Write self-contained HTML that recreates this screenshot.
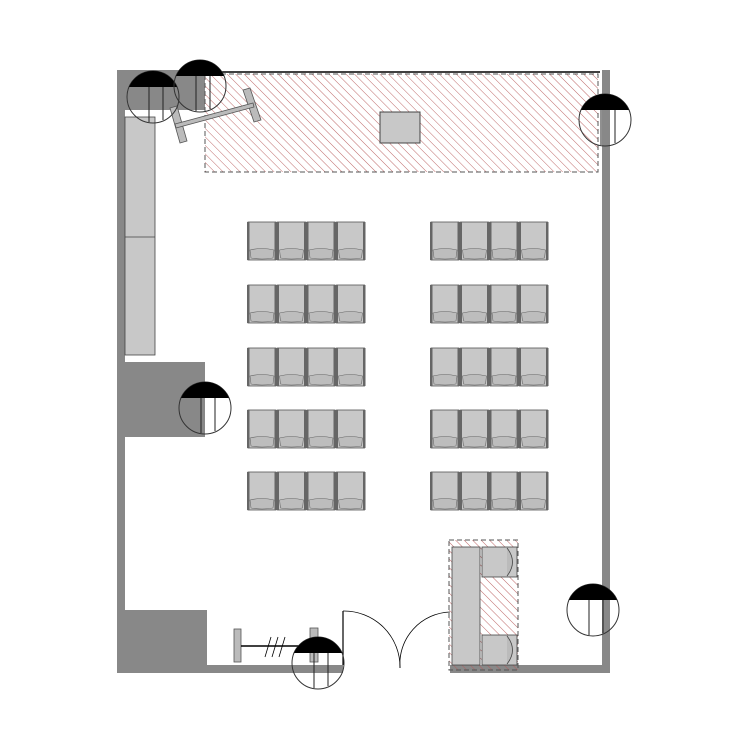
<!DOCTYPE html>
<html><head><style>html,body{margin:0;padding:0;background:#fff}svg{display:block}</style></head>
<body>
<svg width="750" height="750" viewBox="0 0 750 750" xmlns="http://www.w3.org/2000/svg">
<defs>
<pattern id="h" patternUnits="userSpaceOnUse" width="6" height="6" patternTransform="rotate(-45)">
<line x1="0" y1="0" x2="0" y2="6" stroke="#b85a5a" stroke-width="0.9"/>
</pattern>
<g id="ch">
<rect x="1" y="0" width="28" height="38" fill="#c8c8c8" stroke="#555" stroke-width="0.8"/>
<path d="M3 28 Q15 25 27 28 L26 36 Q15 38 4 36 Z" fill="#bdbdbd" stroke="#666" stroke-width="0.6"/>
<rect x="0" y="0" width="2.5" height="38" fill="#666"/>
<rect x="27.5" y="0" width="2.5" height="38" fill="#666"/>
</g>
<g id="row"><use href="#ch" x="0"/><use href="#ch" x="29.5"/><use href="#ch" x="59"/><use href="#ch" x="88.5"/></g>
<g id="lamp">
<circle cx="0" cy="0" r="26" fill="none" stroke="#333" stroke-width="1"/>
<path d="M-24 -10 A26 26 0 0 1 24 -10 Z" fill="#000"/>
<line x1="-4" y1="-10" x2="-4" y2="25" stroke="#222" stroke-width="1"/>
<line x1="10" y1="-10" x2="10" y2="23" stroke="#222" stroke-width="1"/>
</g>
</defs>
<rect x="117" y="70" width="8" height="603" fill="#888"/>
<rect x="117" y="70" width="88" height="8" fill="#888"/>
<rect x="125" y="78" width="80" height="32" fill="#888"/>
<rect x="602" y="70" width="8" height="603" fill="#888"/>
<rect x="117" y="665" width="226" height="8" fill="#888"/>
<rect x="450" y="665" width="160" height="8" fill="#888"/>
<line x1="205" y1="72" x2="600" y2="72" stroke="#000" stroke-width="1.5"/>
<rect x="205" y="74" width="393" height="98" fill="url(#h)" stroke="#555" stroke-width="1" stroke-dasharray="5,3"/>
<rect x="380" y="112" width="40" height="31" fill="#c8c8c8" stroke="#444" stroke-width="1"/>
<rect x="125" y="117" width="30" height="238" fill="#c8c8c8" stroke="#444" stroke-width="0.8"/>
<line x1="125" y1="237" x2="155" y2="237" stroke="#444" stroke-width="0.8"/>
<rect x="125" y="362" width="80" height="75" fill="#888"/>
<rect x="125" y="610" width="82" height="55" fill="#888"/>
<g fill="#bbb" stroke="#555" stroke-width="0.8">
<polygon points="170,108 177,106 187,141 180,143"/>
<polygon points="243,90 250,88 261,120 254,122"/>
<polygon points="175,124 253,103 254,107 176,128"/>
</g>
<use href="#row" x="247" y="222"/><use href="#row" x="430" y="222"/>
<use href="#row" x="247" y="285"/><use href="#row" x="430" y="285"/>
<use href="#row" x="247" y="348"/><use href="#row" x="430" y="348"/>
<use href="#row" x="247" y="410"/><use href="#row" x="430" y="410"/>
<use href="#row" x="247" y="472"/><use href="#row" x="430" y="472"/>
<rect x="449" y="540" width="69" height="130" fill="url(#h)" stroke="#555" stroke-width="1" stroke-dasharray="5,3"/>
<rect x="452" y="547" width="28" height="118" fill="#c8c8c8" stroke="#444" stroke-width="0.8"/>
<g fill="#c8c8c8" stroke="#444" stroke-width="0.8">
<rect x="482" y="547" width="35" height="30"/><rect x="482" y="635" width="35" height="30"/>
</g>
<path d="M507 548 Q518 562 507 576" fill="#bbb" stroke="#444" stroke-width="0.8"/>
<path d="M507 636 Q518 650 507 664" fill="#bbb" stroke="#444" stroke-width="0.8"/>
<line x1="343" y1="665" x2="343" y2="611" stroke="#000" stroke-width="1.2"/>
<path d="M343 611 A56 56 0 0 1 400 668" fill="none" stroke="#000" stroke-width="0.8"/>
<path d="M450 612 A52 52 0 0 0 400 668" fill="none" stroke="#000" stroke-width="0.8"/>
<rect x="234" y="629" width="7" height="33" fill="#bbb" stroke="#555" stroke-width="0.8"/>
<line x1="241" y1="646" x2="310" y2="646" stroke="#000" stroke-width="1.5"/>
<g stroke="#000" stroke-width="0.8"><line x1="265" y1="657" x2="271" y2="637"/><line x1="272" y1="657" x2="278" y2="637"/><line x1="279" y1="657" x2="285" y2="637"/></g>
<rect x="310" y="628" width="8" height="34" fill="#bbb" stroke="#555" stroke-width="0.8"/>
<use href="#lamp" x="153" y="97"/>
<use href="#lamp" x="200" y="86"/>
<use href="#lamp" x="605" y="120"/>
<use href="#lamp" x="205" y="408"/>
<use href="#lamp" x="593" y="610"/>
<use href="#lamp" x="318" y="663"/>
</svg>
</body></html>
